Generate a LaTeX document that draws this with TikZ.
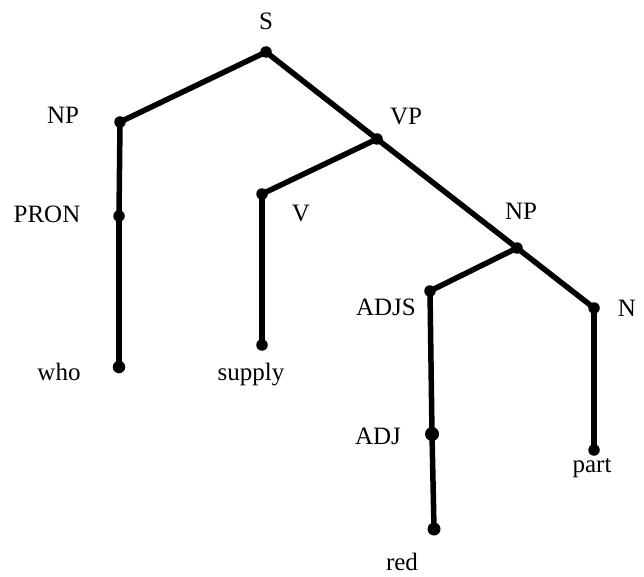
\documentclass[tikz,border=0pt]{standalone}
\usepackage{fontspec}
\setmainfont{Liberation Serif}
\begin{document}
\begin{tikzpicture}[x=1pt,y=-1pt,
  dot/.style={circle,fill=black,inner sep=0pt,minimum size=11.5pt},
  branch/.style={line width=5.5pt,line cap=round},
  lbl/.style={font=\fontsize{25}{29}\selectfont,inner sep=0pt,anchor=center}]
\useasboundingbox (0,0) rectangle (644,577);
% tree nodes
\node[dot] (s)    at (266,52)  {};
\node[dot] (np1)  at (120,122) {};
\node[dot] (vp)   at (377,139) {};
\node[dot] (pron) at (119,216) {};
\node[dot] (v)    at (262,194) {};
\node[dot] (np2)  at (517,248) {};
\node[dot] (adjs) at (430,291) {};
\node[dot] (n)    at (594,308) {};
\node[dot,minimum size=12.5pt] (who) at (119,367) {};
\node[dot] (sup)  at (262,345) {};
\node[dot,minimum size=14pt] (adj) at (432,434) {};
\node[dot] (part) at (594,450) {};
\node[dot,minimum size=13pt] (red) at (434,529) {};
% labels
\node[lbl] (ls)    at (266,21)  {S};
\node[lbl] (lnp1)  at (63,115)  {NP};
\node[lbl] (lvp)   at (406,117) {VP};
\node[lbl] (lpron) at (47,214)  {PRON};
\node[lbl] (lv)    at (301,214) {V};
\node[lbl] (lnp2)  at (521,211) {NP};
\node[lbl] (ladjs) at (386,307) {ADJS};
\node[lbl] (ln)    at (627,308) {N};
\node[lbl] (lwho)  at (59,372)  {who};
\node[lbl] (lsup)  at (251,375) {supply};
\node[lbl] (ladj)  at (378,436) {ADJ};
\node[lbl] (lpart) at (592,468) {part};
\node[lbl] (lred)  at (402,562) {red};
% branches
\draw[branch] (s.center) -- (np1.center);
\draw[branch] (s.center) -- (vp.center);
\draw[branch] (vp.center) -- (np2.center);
\draw[branch] (np2.center) -- (n.center);
\draw[branch] (vp.center) -- (v.center);
\draw[branch] (np2.center) -- (adjs.center);
\draw[branch] (np1.center) -- (pron.center);
\draw[branch] (pron.center) -- (who.center);
\draw[branch] (v.center) -- (sup.center);
\draw[branch] (adjs.center) -- (adj.center);
\draw[branch] (adj.center) -- (red.center);
\draw[branch] (n.center) -- (part.center);
\end{tikzpicture}
\end{document}
